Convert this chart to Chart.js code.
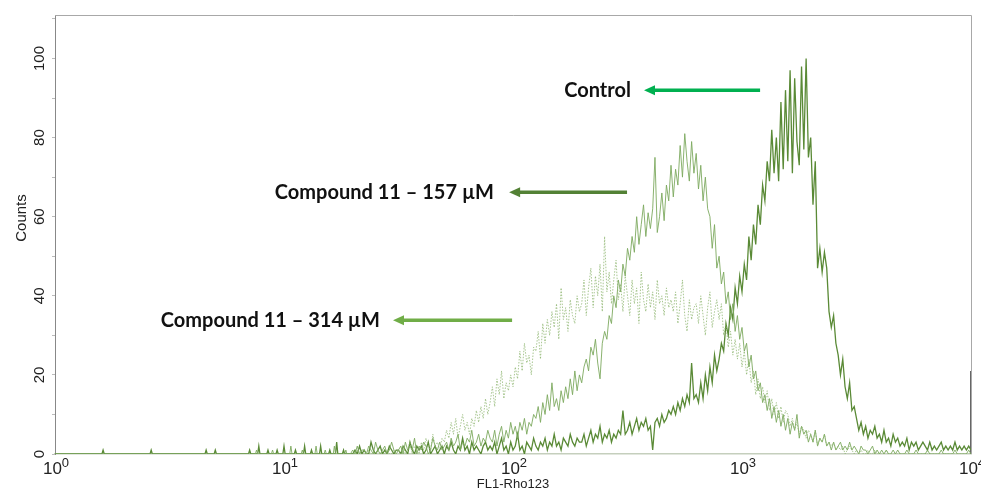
<!DOCTYPE html>
<html>
<head>
<meta charset="utf-8">
<script src="https://cdn.jsdelivr.net/npm/chart.js@4.4.1/dist/chart.umd.min.js"></script>
<style>
html,body{margin:0;padding:0;background:#fff;}
#wrap{width:981px;height:489px;position:relative;}
</style>
</head>
<body>
<div id="wrap"><canvas id="c" width="981" height="489"></canvas></div>
<script>
// Histogram channels, as log10(FL1-Rho123 intensity)
const binLog = [
1.30,1.31,1.32,1.33,1.34,1.35,1.36,1.37,1.38,1.39,
1.40,1.41,1.42,1.43,1.44,1.45,1.46,1.47,1.48,1.49,
1.50,1.51,1.52,1.53,1.54,1.55,1.56,1.57,1.58,1.59,
1.60,1.61,1.62,1.63,1.64,1.65,1.66,1.67,1.68,1.69,
1.70,1.71,1.72,1.73,1.74,1.75,1.76,1.77,1.78,1.79,
1.80,1.81,1.82,1.83,1.84,1.85,1.86,1.87,1.88,1.89,
1.90,1.91,1.92,1.93,1.94,1.95,1.96,1.97,1.98,1.99,
2.00,2.01,2.02,2.03,2.04,2.05,2.06,2.07,2.08,2.09,
2.10,2.11,2.12,2.13,2.14,2.15,2.16,2.17,2.18,2.19,
2.20,2.21,2.22,2.23,2.24,2.25,2.26,2.27,2.28,2.29,
2.30,2.31,2.32,2.33,2.34,2.35,2.36,2.37,2.38,2.39,
2.40,2.41,2.42,2.43,2.44,2.45,2.46,2.47,2.48,2.49,
2.50,2.51,2.52,2.53,2.54,2.55,2.56,2.57,2.58,2.59,
2.60,2.61,2.62,2.63,2.64,2.65,2.66,2.67,2.68,2.69,
2.70,2.71,2.72,2.73,2.74,2.75,2.76,2.77,2.78,2.79,
2.80,2.81,2.82,2.83,2.84,2.85,2.86,2.87,2.88,2.89,
2.90,2.91,2.92,2.93,2.94,2.95,2.96,2.97,2.98,2.99,
3.00,3.01,3.02,3.03,3.04,3.05,3.06,3.07,3.08,3.09,
3.10,3.11,3.12,3.13,3.14,3.15,3.16,3.17,3.18,3.19,
3.20,3.21,3.22,3.23,3.24,3.25,3.26,3.27,3.28,3.29,
3.30,3.31,3.32,3.33,3.34,3.35,3.36,3.37,3.38,3.39,
3.40,3.41,3.42,3.43,3.44,3.45,3.46,3.47,3.48,3.49,
3.50,3.51,3.52,3.53,3.54,3.55,3.56,3.57,3.58,3.59,
3.60,3.61,3.62,3.63,3.64,3.65,3.66,3.67,3.68,3.69,
3.70,3.71,3.72,3.73,3.74,3.75,3.76,3.77,3.78,3.79,
3.80,3.81,3.82,3.83,3.84,3.85,3.86,3.87,3.88,3.89,
3.90,3.91,3.92,3.93,3.94,3.95,3.96,3.97,3.98,3.99,
4.00];

const controlCounts = [
0,1,0,2,0,1,0,0,3,1,
0,1,2,0,1,0,2,1,0,1,
1,0,2,1,0,3,1,0,2,1,
2,0,1,3,0,1,2,0,1,2,
0,2,1,3,1,0,2,1,4,1,
2,0,3,1,2,1,0,2,3,1,
2,1,3,0,2,4,1,2,0,3,
1,2,5,1,2,0,3,2,1,4,
2,1,3,2,4,1,3,2,5,2,
3,1,4,3,2,5,3,2,4,3,
3,5,2,4,6,3,5,4,7,3,
5,4,6,3,5,4,6,5,11,5,
6,8,5,7,9,6,8,7,9,6,
7,1,8,9,7,10,8,9,11,10,
12,10,13,11,14,12,15,13,23,14,
15,13,18,14,20,16,22,18,25,21,
24,28,26,33,30,37,34,42,38,45,
41,48,44,55,49,58,53,63,58,68,
64,74,69,82,71,80,69,89,72,92,
74,97,71,95,79,73,98,77,100,75,
80,63,74,47,52,46,51,47,36,32,
35,28,25,20,24,17,14,18,11,12,
9,6,8,5,7,4,6,5,7,4,
5,3,6,3,4,2,5,3,4,2,
3,2,4,1,3,2,3,1,2,3,
2,1,3,1,2,1,2,3,1,2,
1,2,1,3,1,2,1,2,1,2,
1];

const c157Counts = [
1,0,2,0,1,1,0,2,1,0,
3,1,0,1,2,0,1,3,1,0,
1,2,0,3,1,2,1,4,0,2,
1,3,2,0,1,4,2,1,3,1,
2,3,1,4,2,3,5,1,3,2,
4,3,6,2,3,5,2,4,3,6,
4,3,6,2,5,7,3,6,4,8,
5,7,4,8,6,9,5,8,7,10,
9,12,8,13,10,15,11,18,12,14,
11,16,13,17,14,19,15,21,16,20,
18,22,24,21,27,25,29,23,19,28,
31,29,35,33,40,37,44,41,48,45,
52,49,55,51,60,53,58,63,55,61,
57,62,75,56,60,66,59,68,64,73,
65,72,68,78,70,81,74,69,79,71,
76,67,73,64,70,62,60,52,58,47,
50,43,46,38,41,34,38,31,35,29,
32,26,28,22,25,19,21,16,18,13,
15,11,14,9,12,8,11,7,10,6,
9,5,8,6,10,4,7,5,6,3,
5,3,6,2,4,3,5,2,3,1,
3,1,2,3,1,2,1,3,1,2,
1,0,2,1,1,0,1,2,0,1,
0,1,0,1,0,0,1,0,1,0,
0,0,1,0,0,0,1,0,0,0,
0,1,0,0,0,0,0,1,0,0,
0,0,0,1,0,0,0,0,0,1,
0];

const c314Counts = [
0,0,1,0,0,0,0,1,0,0,
0,1,0,0,0,1,0,0,1,0,
1,0,2,0,1,3,0,2,1,0,
3,1,4,2,1,5,2,3,1,4,
3,6,4,8,5,9,4,7,10,6,
8,5,9,7,11,8,12,9,14,10,
13,17,12,19,15,21,14,18,16,20,
17,22,19,26,21,28,23,25,20,27,
26,31,24,33,28,34,30,36,32,38,
29,42,34,37,31,39,35,33,40,36,
38,44,35,42,47,37,45,40,48,36,
55,41,46,38,44,49,39,43,36,45,
40,35,44,38,42,33,46,39,36,43,
37,41,34,44,38,40,35,42,37,39,
36,41,33,38,44,35,31,39,34,37,
38,33,40,35,30,37,41,32,36,39,
34,38,30,33,27,31,25,29,24,28,
22,26,20,24,18,21,15,19,14,17,
13,16,11,14,10,13,9,12,8,11,
10,7,9,6,8,5,7,6,4,6,
5,3,6,2,4,3,5,2,3,2,
3,1,2,1,2,0,1,2,1,0,
1,0,1,0,0,1,0,0,1,0,
0,0,0,1,0,0,0,0,0,0,
0,0,0,0,0,0,0,0,0,0,
0,0,0,0,0,0,0,0,0,0,
0,0,0,0,0,0,0,0,0,0,
0];

// sparse low-intensity events (log10 channel, counts)
const controlLowLog = [0,0.205,0.21,0.215,0.415,0.42,0.425,0.655,0.66,0.665,0.695,0.70,0.705,0.845,0.85,0.855,0.885,0.89,0.895,0.925,0.93,0.935,0.965,0.97,0.975,0.995,1.00,1.005,1.045,1.05,1.055,1.085,1.09,1.095,1.115,1.12,1.125,1.155,1.16,1.165,1.195,1.20,1.205,1.225,1.23,1.235,1.255,1.26,1.265,1.29];
const controlLowCounts = [0,0,1,0,0,1,0,0,1,0,0,1,0,0,1,0,0,2,0,0,1,0,0,1,0,0,2,0,0,1,0,0,2,0,0,1,0,0,2,0,0,1,0,0,3,0,0,1,0,0];
const c157LowLog = [0,0.875,0.88,0.885,0.945,0.95,0.955,1.025,1.03,1.035,1.075,1.08,1.085,1.135,1.14,1.145,1.175,1.18,1.185,1.215,1.22,1.225,1.265,1.27,1.275,1.29];
const c157LowCounts = [0,0,1,0,0,1,0,0,2,0,0,1,0,0,2,0,0,1,0,0,2,0,0,1,0,0];
const overflowCount = 21; // top channel (10^4)

const xTickExponents = [0,1,2,3,4];
const yTickLabels = [0,20,40,60,80,100];

const annotations = [
  {text:'Control', textEndLog:2.515, arrowTipLog:2.572, arrowTailLog:3.079, count:92, color:'#00b050'},
  {text:'Compound 11 \u2013 157 \u00b5M', textEndLog:1.917, arrowTipLog:1.983, arrowTailLog:2.498, count:66.2, color:'#538135'},
  {text:'Compound 11 \u2013 314 \u00b5M', textEndLog:1.419, arrowTipLog:1.476, arrowTailLog:1.996, count:33.8, color:'#70ad47'}
];

function toPoints(logs, counts){ return logs.map((l,i)=>({x:Math.pow(10,l), y:counts[i]})); }

const datasets = [
  {label:'Compound 11 \u2013 314 \u00b5M', data: toPoints(binLog, c314Counts), borderColor:'rgba(140,180,110,0.75)', borderWidth:1, borderDash:[1.5,1.5]},
  {label:'Compound 11 \u2013 157 \u00b5M', data: toPoints(c157LowLog.concat(binLog), c157LowCounts.concat(c157Counts)), borderColor:'rgba(125,170,95,0.9)', borderWidth:1},
  {label:'Control', data: toPoints(controlLowLog.concat(binLog), controlLowCounts.concat(controlCounts)), borderColor:'#5a8a36', borderWidth:1.3},
  {label:'Overflow', data:[{x:Math.pow(10,4), y:0},{x:Math.pow(10,4), y:overflowCount}], borderColor:'#333', borderWidth:1.5}
];
datasets.forEach(d=>{d.pointRadius=0; d.tension=0; d.fill=false;});

const textPlugin = {
  id:'textPlugin',
  afterDraw(chart){
    const {ctx, chartArea:a, scales:{x, y}} = chart;
    ctx.save();
    // frame top & right
    ctx.strokeStyle = '#a8a8a8'; ctx.lineWidth = 1;
    ctx.beginPath(); ctx.moveTo(a.left, a.top+0.5); ctx.lineTo(a.right+0.5, a.top+0.5); ctx.lineTo(a.right+0.5, a.bottom); ctx.stroke();
    // y tick labels rotated
    ctx.fillStyle = '#222';
    ctx.font = '15px "Liberation Sans", Arial, sans-serif';
    ctx.textAlign = 'center'; ctx.textBaseline = 'middle';
    yTickLabels.forEach(v=>{
      const py = y.getPixelForValue(v);
      ctx.save(); ctx.translate(40, py); ctx.rotate(-Math.PI/2); ctx.fillText(String(v), 0, 0); ctx.restore();
    });
    ctx.save(); ctx.translate(22, 218); ctx.rotate(-Math.PI/2); ctx.font = '15px "Liberation Sans", Arial, sans-serif'; ctx.fillText('Counts', 0, 0); ctx.restore();
    // x tick labels 10^n
    xTickExponents.forEach(e=>{
      const px = x.getPixelForValue(Math.pow(10,e));
      ctx.font = '17px "Liberation Sans", Arial, sans-serif';
      const w1 = ctx.measureText('10').width;
      ctx.font = '13px "Liberation Sans", Arial, sans-serif';
      const w2 = ctx.measureText(String(e)).width;
      const start = px - (w1+w2)/2 + 1;
      ctx.textAlign = 'left'; ctx.textBaseline = 'alphabetic';
      ctx.font = '17px "Liberation Sans", Arial, sans-serif';
      ctx.fillText('10', start, 474);
      ctx.font = '13px "Liberation Sans", Arial, sans-serif';
      ctx.fillText(String(e), start + w1, 467);
    });
    // x title
    ctx.font = '13px "Liberation Sans", Arial, sans-serif';
    ctx.textAlign = 'center'; ctx.textBaseline = 'alphabetic';
    ctx.fillText('FL1-Rho123', (a.left+a.right)/2, 488);
    // annotations
    annotations.forEach(an=>{
      const ty = y.getPixelForValue(an.count);
      ctx.font = 'bold 20px Lato, "Open Sans", sans-serif';
      ctx.fillStyle = '#111'; ctx.textAlign = 'right'; ctx.textBaseline = 'middle';
      ctx.fillText(an.text, x.getPixelForValue(Math.pow(10, an.textEndLog)), ty);
      const tip = x.getPixelForValue(Math.pow(10, an.arrowTipLog));
      const tail = x.getPixelForValue(Math.pow(10, an.arrowTailLog));
      ctx.strokeStyle = an.color; ctx.fillStyle = an.color; ctx.lineWidth = 3.5;
      ctx.beginPath(); ctx.moveTo(tail, ty); ctx.lineTo(tip+8, ty); ctx.stroke();
      ctx.beginPath(); ctx.moveTo(tip, ty); ctx.lineTo(tip+11, ty-5); ctx.lineTo(tip+11, ty+5); ctx.closePath(); ctx.fill();
    });
    ctx.restore();
  }
};

new Chart(document.getElementById('c'), {
  type:'line',
  data:{datasets},
  options:{
    responsive:false, animation:false, events:[],
    layout:{padding:{top:15, right:10, left:0, bottom:0}},
    plugins:{legend:{display:false}, tooltip:{enabled:false}},
    scales:{
      x:{type:'logarithmic', min:1, max:10000,
         afterBuildTicks(s){ s.ticks = xTickExponents.map(e=>({value:Math.pow(10,e)})); },
         afterFit(s){ s.height = 35; },
         ticks:{display:false},
         grid:{display:false},
         border:{display:true, color:'#c5cfbd', width:1.5}},
      y:{type:'linear', min:0, max:111,
         ticks:{display:false, stepSize:10, includeBounds:false},
         afterFit(s){ s.width = 55; },
         grid:{display:true, drawOnChartArea:false, drawTicks:true, tickLength:3, color:'#bbb'},
         border:{display:true, color:'#888', width:1}}
    }
  },
  plugins:[textPlugin]
});
</script>
</body>
</html>
